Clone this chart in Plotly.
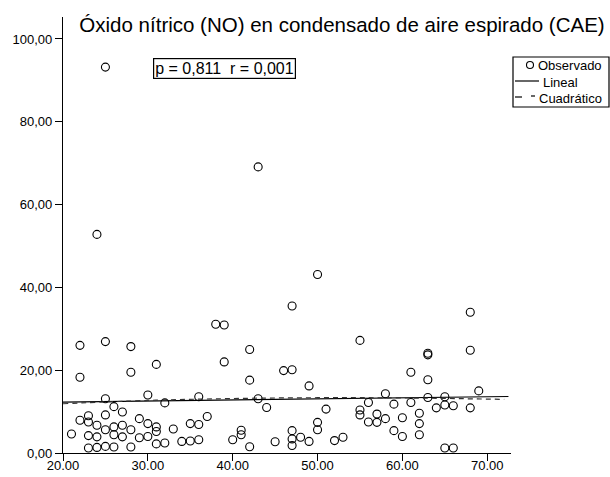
import plotly.graph_objects as go

# ---- data ----
edad = [22, 25, 28, 31, 22, 28, 38, 39, 39, 30, 25, 36, 32, 26, 27, 23, 25, 22, 23, 24,
        29, 30, 31, 31, 27, 26, 25, 28, 33, 35, 36, 37, 21, 23, 24, 26, 27, 29, 30, 31,
        32, 34, 35, 36, 23, 24, 25, 26, 28, 24, 25, 43, 50,
        47, 55, 42, 46, 47, 61, 42, 63, 49, 43, 58, 44, 51, 56, 59, 61, 63, 55, 55, 56,
        57, 57, 58, 60, 62, 62, 62, 59, 60, 50, 50, 47, 47, 47, 48, 49, 45, 52, 53, 41,
        41, 40, 42,
        68, 68, 63, 63, 69, 65, 64, 65, 66, 68, 65, 66]
no_cae = [26.0, 26.9, 25.7, 21.4, 18.3, 19.5, 31.1, 30.9, 22.0, 14.0, 13.1, 13.6, 12.1, 11.2, 9.9,
          9.0, 9.2, 7.9, 7.5, 6.7, 8.3, 7.1, 6.3, 5.2, 6.7, 6.3, 5.6, 5.6, 5.8, 7.1, 6.9, 8.8,
          4.6, 4.2, 3.9, 4.4, 3.9, 3.7, 4.0, 2.2, 2.4, 2.8, 2.9, 3.2, 1.2, 1.35, 1.6, 1.45, 1.45,
          52.8, 93.2, 69.1, 43.1,
          35.5, 27.2, 25.0, 19.9, 20.1, 19.5, 17.6, 17.7, 16.2, 13.1, 14.3, 11.0, 10.6, 12.2,
          11.8, 12.2, 13.4, 10.4, 9.2, 7.5, 9.4, 7.4, 8.3, 8.5, 9.6, 7.1, 4.4, 5.4, 4.0, 7.4,
          5.6, 5.4, 3.4, 1.8, 3.8, 2.8, 2.7, 3.0, 3.8, 5.5, 4.4, 3.2, 1.5,
          34.0, 24.8, 23.7, 24.1, 15.0, 13.6, 10.9, 11.6, 11.4, 10.9, 1.2, 1.2]

lineal_x = [20.0, 72.5]
lineal_y = [12.3, 13.65]
cuad_x = [20, 30, 40, 50, 60, 72]
cuad_y = [11.9, 12.7, 13.15, 13.35, 13.3, 12.95]

x_ticks = [20, 30, 40, 50, 60, 70]
x_labels = ["20.00", "30.00", "40.00", "50.00", "60.00", "70.00"]
y_ticks = [0, 20, 40, 60, 80, 100]
y_labels = ["0,00", "20,00", "40,00", "60,00", "80,00", "100,00"]

titulo = "Óxido nítrico (NO) en condensado de aire espirado (CAE)"
estadistico = "p = 0,811  r = 0,001"
leyenda = ["Observado", "Lineal", "Cuadrático"]

FONT = "Liberation Sans, Arial, Helvetica, sans-serif"
W, H = 610, 477
L, R, T, B = 63, 99, 17, 24
PW, PH = W - L - R, H - T - B


def px(xp):
    return (xp - L) / PW


def py(yp):
    return (H - B - yp) / PH


fig = go.Figure()
fig.add_trace(go.Scatter(x=edad, y=no_cae, mode="markers", name=leyenda[0],
                         marker=dict(symbol="circle-open", size=8, color="black",
                                     line=dict(width=1.1, color="black")),
                         cliponaxis=False, showlegend=False))
fig.add_trace(go.Scatter(x=lineal_x, y=lineal_y, mode="lines", name=leyenda[1],
                         line=dict(color="black", width=1.2), showlegend=False))
fig.add_trace(go.Scatter(x=cuad_x, y=cuad_y, mode="lines", name=leyenda[2],
                         line=dict(color="#333333", width=1.2, dash="5px,4px", shape="spline"),
                         showlegend=False))

axis_common = dict(showline=True, linecolor="black", linewidth=1.3, ticks="outside",
                   ticklen=7, tickwidth=1.2, tickcolor="black", showgrid=False,
                   zeroline=False, automargin=False,
                   tickfont=dict(family=FONT, size=13, color="black"))

fig.update_layout(
    width=W, height=H,
    margin=dict(l=L, r=R, t=T, b=B, autoexpand=False),
    paper_bgcolor="white", plot_bgcolor="white",
    xaxis=dict(range=[20, 72.8], tickvals=x_ticks, ticktext=x_labels,
               ticklabelstandoff=-7, **axis_common),
    yaxis=dict(range=[0, 105.3], tickvals=y_ticks, ticktext=y_labels, **axis_common),
    title=dict(text=titulo, font=dict(family=FONT, size=20.5, color="black"),
               xref="container", yref="container", x=342 / W, y=1 - 25 / H,
               xanchor="center", yanchor="middle", automargin=False),
    showlegend=False,
)

# statistic box
fig.add_annotation(text=estadistico, xref="paper", yref="paper", x=px(224.5), y=py(68.5),
                   xanchor="center", yanchor="middle", showarrow=False,
                   font=dict(family=FONT, size=16, color="black"),
                   bordercolor="black", borderwidth=1.2, borderpad=1, bgcolor="white")

# custom legend
shapes = [
    dict(type="rect", xref="paper", yref="paper", x0=px(513), x1=px(609), y0=py(57), y1=py(107),
         line=dict(color="black", width=1.2), fillcolor="white", layer="above"),
    dict(type="circle", xref="paper", yref="paper", xsizemode="pixel", ysizemode="pixel",
         xanchor=px(530), yanchor=py(65), x0=-3.5, x1=3.5, y0=-3.5, y1=3.5,
         line=dict(color="black", width=1.1), layer="above"),
    dict(type="line", xref="paper", yref="paper", x0=px(515), x1=px(539), y0=py(81), y1=py(81),
         line=dict(color="black", width=1.2), layer="above"),
    dict(type="line", xref="paper", yref="paper", x0=px(515), x1=px(522), y0=py(97), y1=py(97),
         line=dict(color="black", width=1.2), layer="above"),
    dict(type="line", xref="paper", yref="paper", x0=px(531), x1=px(535), y0=py(96), y1=py(96),
         line=dict(color="black", width=1.2), layer="above"),
]
fig.update_layout(shapes=shapes)
for txt, xt, yt in zip(leyenda, [536, 541, 537], [65, 82, 98]):
    fig.add_annotation(text=txt, xref="paper", yref="paper", x=px(xt), y=py(yt),
                       xanchor="left", yanchor="middle", showarrow=False,
                       font=dict(family=FONT, size=13, color="black"))

fig.write_html("out.html", config={"displayModeBar": False},
               post_script="document.body.style.margin='0';document.body.style.overflow='hidden';")
